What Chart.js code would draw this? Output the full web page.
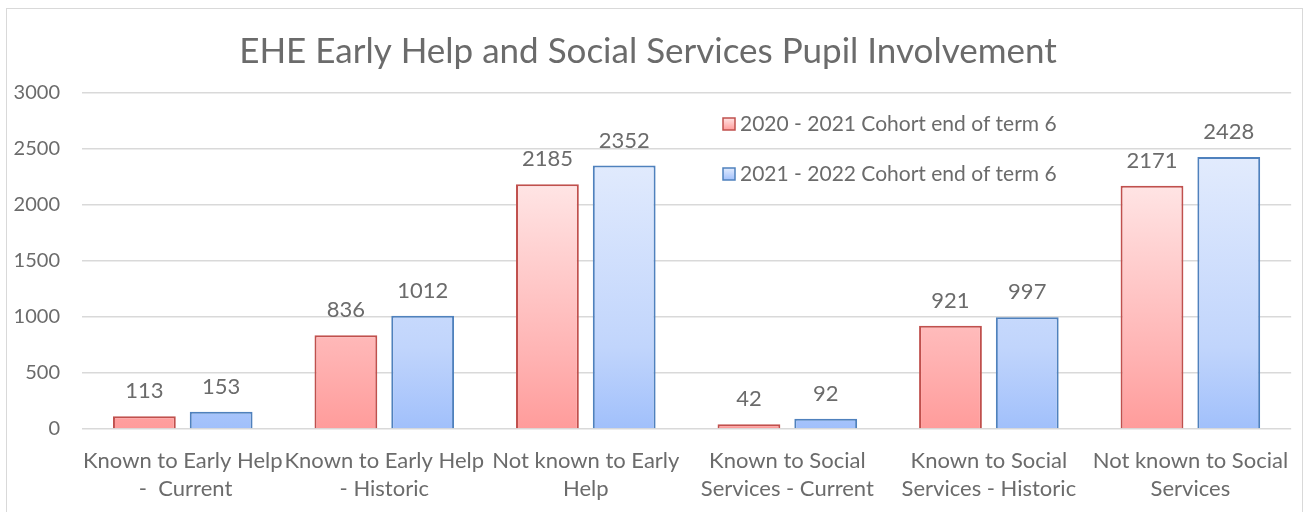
<!DOCTYPE html>
<html>
<head>
<meta charset="utf-8">
<script src="https://cdn.jsdelivr.net/npm/chart.js@4/dist/chart.umd.min.js"></script>
<style>
  body { margin: 0; background: #fff; }
  #wrap { position: absolute; left: 0; top: 0; width: 1307px; height: 512px; }
  #frame { position: absolute; left: 6px; top: 8px; width: 1295px; height: 520px; border: 1px solid #d9d9d9; }
</style>
</head>
<body>
<div id="frame"></div>
<div id="wrap"><canvas id="myChart" width="1307" height="512"></canvas></div>
<script>
var categories = [
  ['Known to Early Help', ' -  Current'],
  ['Known to Early Help', '- Historic'],
  ['Not known to Early', 'Help'],
  ['Known to Social', 'Services - Current'],
  ['Known to Social', 'Services - Historic'],
  ['Not known to Social', 'Services']
];
var seriesNames = ['2020 - 2021 Cohort end of term 6', '2021 - 2022 Cohort end of term 6'];
var cohort2021 = [113, 836, 2185, 42, 921, 2171];
var cohort2022 = [153, 1012, 2352, 92, 997, 2428];
var yTicks = [0, 500, 1000, 1500, 2000, 2500, 3000];

var fontName = 'Lato, "Open Sans", sans-serif';
var textColor = '#6b6b6b';
var fills = [['#ffe4e4', '#ffb3b3', '#ff9c9b'], ['#e2ebfd', '#c1d5fc', '#a1c0fb']];

// each bar gets its own top-to-bottom gradient, like the Excel fill
var barGradients = {
  id: 'barGradients',
  beforeDatasetsDraw: function (chart) {
    var ctx = chart.ctx;
    chart.data.datasets.forEach(function (ds, i) {
      chart.getDatasetMeta(i).data.forEach(function (bar) {
        var g = ctx.createLinearGradient(0, bar.y, 0, bar.base);
        g.addColorStop(0, fills[i][0]);
        g.addColorStop(0.7, fills[i][1]);
        g.addColorStop(1, fills[i][2]);
        bar.options.backgroundColor = g;
      });
    });
  }
};

// value labels above every bar
var valueLabels = {
  id: 'valueLabels',
  afterDatasetsDraw: function (chart) {
    var ctx = chart.ctx;
    ctx.save();
    ctx.font = '22px ' + fontName;
    ctx.fillStyle = textColor;
    ctx.textAlign = 'center';
    ctx.textBaseline = 'middle';
    chart.data.datasets.forEach(function (ds, i) {
      chart.getDatasetMeta(i).data.forEach(function (bar, j) {
        ctx.fillText(ds.data[j], bar.x, bar.y - 25);
      });
    });
    ctx.restore();
  }
};

// legend sits inside the plot area like in the original
var innerLegend = {
  id: 'innerLegend',
  afterDraw: function (chart) {
    var ctx = chart.ctx;
    var x = 723, rows = [124, 174];
    ctx.save();
    ctx.font = '21px ' + fontName;
    ctx.textBaseline = 'middle';
    chart.data.datasets.forEach(function (ds, i) {
      var y = rows[i];
      var g = ctx.createLinearGradient(0, y - 6, 0, y + 6);
      g.addColorStop(0, fills[i][0]);
      g.addColorStop(1, fills[i][2]);
      ctx.fillStyle = g;
      ctx.fillRect(x, y - 6, 12, 12);
      ctx.strokeStyle = ds.borderColor;
      ctx.lineWidth = 1.5;
      ctx.strokeRect(x, y - 6, 12, 12);
      ctx.fillStyle = textColor;
      ctx.fillText(seriesNames[i], x + 17, y);
    });
    ctx.restore();
  }
};

var chartdata = {
  labels: categories,
  datasets: [{
    label: seriesNames[0],
    data: cohort2021,
    backgroundColor: fills[0][2],
    borderColor: '#c0504d',
    borderWidth: 2,
    barPercentage: 0.818,
    categoryPercentage: 0.762
  }, {
    label: seriesNames[1],
    data: cohort2022,
    backgroundColor: fills[1][2],
    borderColor: '#4f81bd',
    borderWidth: 2,
    barPercentage: 0.818,
    categoryPercentage: 0.762
  }]
};

var ctx = document.getElementById('myChart');
var barChart = new Chart(ctx, {
  type: 'bar',
  data: chartdata,
  plugins: [barGradients, valueLabels, innerLegend],
  options: {
    responsive: false,
    animation: false,
    layout: { padding: { left: 0, right: 11, top: 0, bottom: 0 } },
    plugins: {
      legend: { display: false },
      tooltip: { enabled: false },
      title: {
        display: true,
        text: 'EHE Early Help and Social Services Pupil Involvement',
        color: textColor,
        font: { family: fontName, size: 35, weight: 'normal' },
        padding: { top: 31, bottom: 20 }
      }
    },
    scales: {
      x: {
        grid: { display: false, drawTicks: false },
        border: { display: false },
        ticks: {
          color: textColor,
          font: { family: fontName, size: 22, lineHeight: '28px' },
          padding: 18,
          maxRotation: 0,
          autoSkip: false
        },
        afterFit: function (scale) { scale.height = 83; }
      },
      y: {
        min: 0,
        max: 3000,
        afterBuildTicks: function (scale) {
          scale.ticks = yTicks.map(function (v) { return { value: v }; });
        },
        grid: { color: '#d9d9d9', lineWidth: 1.5, drawTicks: false },
        border: { display: false },
        ticks: {
          color: textColor,
          font: { family: fontName, size: 20 },
          padding: 22,
          callback: function (v) { return String(v); }
        },
        afterFit: function (scale) { scale.width = 82; }
      }
    }
  }
});
</script>
</body>
</html>
